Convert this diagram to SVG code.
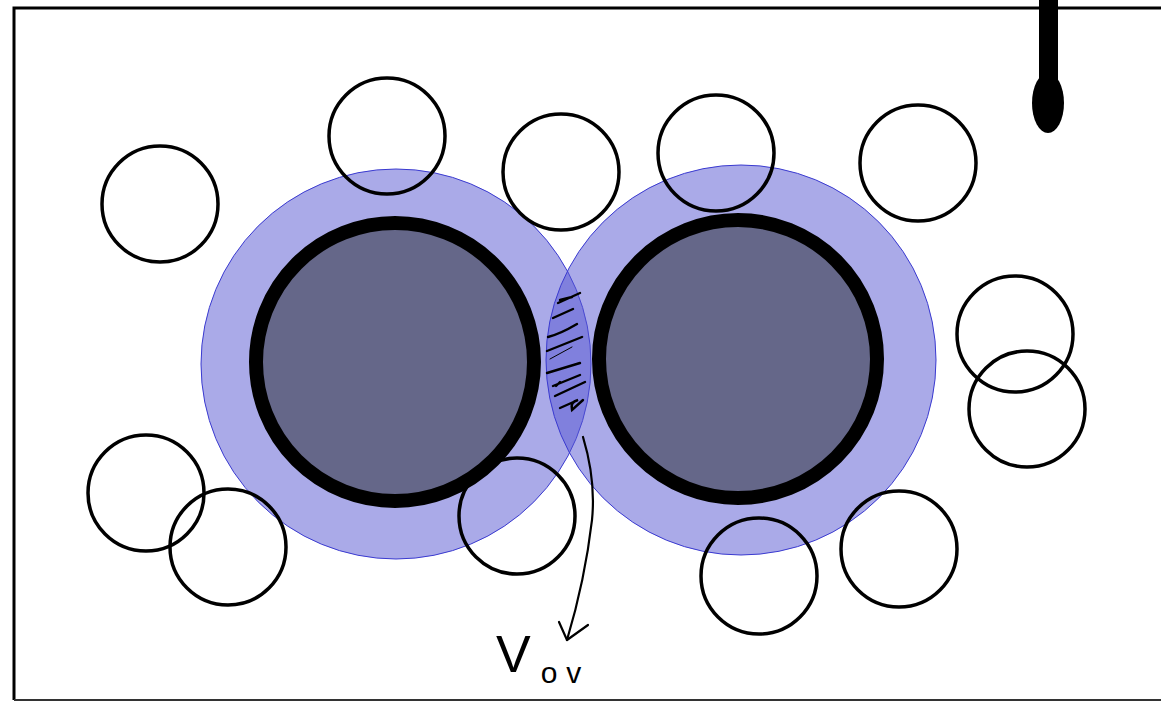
<svg xmlns="http://www.w3.org/2000/svg" width="1161" height="701" viewBox="0 0 1161 701">
<style>
.halo{fill:#5555d2;fill-opacity:0.5;stroke:#3a3ad0;stroke-width:1}
.core{fill:#656789;stroke:#000;stroke-width:14}
.small{fill:none;stroke:#000;stroke-width:3.5}
.hatch{fill:none;stroke:#000;stroke-width:2.4;stroke-linecap:round}
.lbl{font-family:"Liberation Sans",Arial,sans-serif;fill:#000}
</style>
<rect x="0" y="0" width="1161" height="701" fill="#fff"/>
<g id="frame">
<polyline points="14,700 14,8 1161,8" fill="none" stroke="#000" stroke-width="3"/>
<line x1="14" y1="700" x2="1161" y2="700" stroke="#333" stroke-width="2"/>
</g>
<g id="probe">
<rect x="1039" y="0" width="19" height="82" fill="#000"/>
<ellipse cx="1048" cy="103" rx="16" ry="30" fill="#000"/>
</g>
<g id="halo-left"><circle class="halo" cx="396" cy="364" r="195"/></g>
<g id="halo-right"><circle class="halo" cx="741" cy="360" r="195"/></g>
<g id="particle-left"><circle class="core" cx="395" cy="362" r="139"/></g>
<g id="particle-right"><circle class="core" cx="738" cy="359" r="139"/></g>
<g id="overlap-hatch">
<path class="hatch" d="M558,303 L580,293 M560,300 L572,297"/>
<path class="hatch" d="M553,318 L573,309"/>
<path class="hatch" d="M548,337 Q560,334 577,324"/>
<path class="hatch" d="M547,351 L582,337"/>
<path class="hatch" d="M550,359 L572,347" style="stroke-width:1"/>
<path class="hatch" d="M547,373 L580,363"/>
<path class="hatch" d="M553,386 L580,375 M556,386 L560,382"/>
<path class="hatch" d="M555,396 L585,382"/>
<path class="hatch" d="M560,408 L578,400 Q570,402 572,410 L583,400"/>
</g>
<g id="small-circles">
<circle id="s1" class="small" cx="160" cy="204" r="58"/>
<circle id="s2" class="small" cx="387" cy="136" r="58"/>
<circle id="s3" class="small" cx="561" cy="172" r="58"/>
<circle id="s4" class="small" cx="716" cy="153" r="58"/>
<circle id="s5" class="small" cx="918" cy="163" r="58"/>
<circle id="s6" class="small" cx="1015" cy="334" r="58"/>
<circle id="s7" class="small" cx="1027" cy="409" r="58"/>
<circle id="s8" class="small" cx="146" cy="493" r="58"/>
<circle id="s9" class="small" cx="228" cy="547" r="58"/>
<circle id="s10" class="small" cx="517" cy="516" r="58"/>
<circle id="s11" class="small" cx="759" cy="576" r="58"/>
<circle id="s12" class="small" cx="899" cy="549" r="58"/>
</g>
<g id="connectors">
<path d="M583,437 Q596,480 592,520 Q585,580 567,640" fill="none" stroke="#000" stroke-width="2.2" stroke-linecap="round"/>
<path d="M559,622 L567,640 L588,625" fill="none" stroke="#000" stroke-width="2.2" stroke-linecap="round" stroke-linejoin="round"/>
</g>
<g id="label">
<text class="lbl" x="496" y="672" font-size="52">V<tspan font-size="30" dx="10" dy="11" letter-spacing="9">ov</tspan></text>
</g>
</svg>
